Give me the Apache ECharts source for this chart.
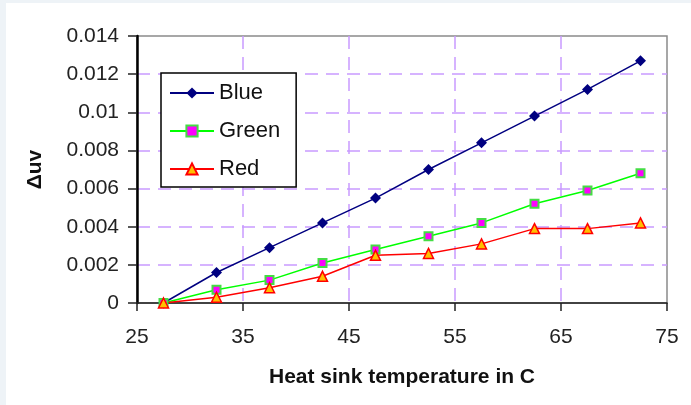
<!DOCTYPE html>
<html>
<head>
<meta charset="utf-8">
<script src="https://cdn.jsdelivr.net/npm/echarts@6/dist/echarts.min.js"></script>
<style>
	html, body { margin: 0; padding: 0; background: #eef3f7; }
	#chart { position: absolute; left: 6px; top: 3px; width: 685px; height: 402px; background: #fff; }
</style>
</head>
<body>
<div id="chart"></div>
<script>
// 温度（横轴）
var temps = [27.5, 32.5, 37.5, 42.5, 47.5, 52.5, 57.5, 62.5, 67.5, 72.5];
// Δuv 数据
var blue = [0, 0.0016, 0.0029, 0.0042, 0.0055, 0.0070, 0.0084, 0.0098, 0.0112, 0.0127];
var green = [0, 0.0007, 0.0012, 0.0021, 0.0028, 0.0035, 0.0042, 0.0052, 0.0059, 0.0068];
var red = [0, 0.0003, 0.0008, 0.0014, 0.0025, 0.0026, 0.0031, 0.0039, 0.0039, 0.0042];
var yTickLabels = ['0', '0.002', '0.004', '0.006', '0.008', '0.01', '0.012', '0.014'];

function pairs(ys) {
	var out = [];
	for (var i = 0; i < temps.length; i++) {
		out.push([temps[i], ys[i]]);
	}
	return out;
}

var font = 'Liberation Sans, Arial, sans-serif';
var gridLine = {
	show: true,
	showMinLine: false,
	showMaxLine: false,
	lineStyle: { color: '#c99bff', type: [13, 8], width: 1.5 }
};

var chart = echarts.init(document.getElementById('chart'));
var option = {
	animation: false,
	grid: {
		left: 131,
		right: 24,
		top: 33,
		bottom: 102,
		show: true,
		borderColor: '#8a8a8a',
		borderWidth: 1.5
	},
	legend: {
		orient: 'vertical',
		left: 155,
		top: 70,
		padding: [8, 16, 6, 8],
		borderColor: '#000',
		borderWidth: 1.5,
		backgroundColor: '#fff',
		itemWidth: 44,
		itemHeight: 14,
		itemGap: 14,
		textStyle: { fontFamily: font, fontSize: 22, color: '#111', lineHeight: 24 },
		data: ['Blue', 'Green', 'Red']
	},
	xAxis: {
		type: 'value',
		min: 25,
		max: 75,
		interval: 10,
		name: 'Heat sink temperature in C',
		nameLocation: 'middle',
		nameGap: 64,
		nameTextStyle: { fontFamily: font, fontSize: 21, fontWeight: 'bold', color: '#111' },
		axisLine: { lineStyle: { color: '#222', width: 1.5 } },
		axisTick: { length: 8, lineStyle: { color: '#222', width: 1.5 } },
		axisLabel: { margin: 24, fontFamily: font, fontSize: 21, color: '#222' },
		splitLine: gridLine
	},
	yAxis: {
		type: 'value',
		min: 0,
		max: 0.014,
		interval: 0.002,
		name: 'Δuv',
		nameLocation: 'middle',
		nameGap: 91,
		nameTextStyle: { fontFamily: font, fontSize: 21, fontWeight: 'bold', color: '#111' },
		axisLine: { show: true, lineStyle: { color: '#000', width: 2.5 } },
		axisTick: { show: true, length: 9, lineStyle: { color: '#222', width: 1.5 } },
		axisLabel: {
			margin: 18,
			fontFamily: font,
			fontSize: 21,
			color: '#222',
			formatter: function(v) {
				return yTickLabels[Math.round(v / 0.002)];
			}
		},
		splitLine: gridLine
	},
	series: [{
		name: 'Blue',
		type: 'line',
		data: pairs(blue),
		symbol: 'diamond',
		symbolSize: 11,
		lineStyle: { color: '#000080', width: 1.5 },
		itemStyle: { color: '#000080' }
	}, {
		name: 'Green',
		type: 'line',
		data: pairs(green),
		symbol: 'rect',
		symbolSize: 8,
		lineStyle: { color: '#00ff00', width: 1.5 },
		itemStyle: { color: '#ff00ff', borderColor: '#44dd44', borderWidth: 2 }
	}, {
		name: 'Red',
		type: 'line',
		data: pairs(red),
		symbol: 'triangle',
		symbolSize: 10,
		lineStyle: { color: '#ff0000', width: 1.5 },
		itemStyle: { color: '#ffc000', borderColor: '#ff0000', borderWidth: 1.5 }
	}]
};
chart.setOption(option);
</script>
</body>
</html>
